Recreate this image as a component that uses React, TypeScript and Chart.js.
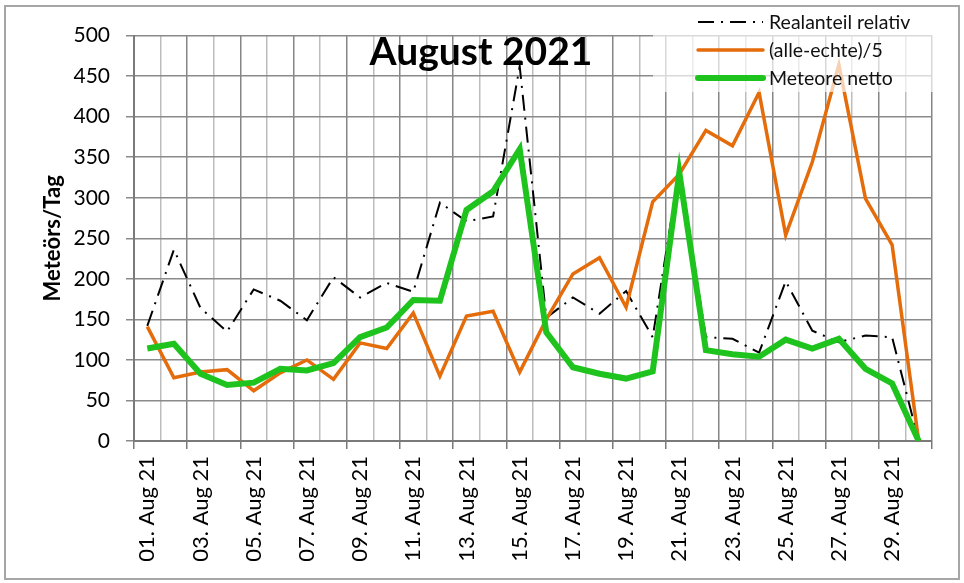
import { useEffect, useRef } from "react";
import { Chart, ChartConfiguration, Plugin, registerables } from "chart.js";

Chart.register(...registerables);

const days = [
  "01. Aug 21", "02. Aug 21", "03. Aug 21", "04. Aug 21", "05. Aug 21",
  "06. Aug 21", "07. Aug 21", "08. Aug 21", "09. Aug 21", "10. Aug 21",
  "11. Aug 21", "12. Aug 21", "13. Aug 21", "14. Aug 21", "15. Aug 21",
  "16. Aug 21", "17. Aug 21", "18. Aug 21", "19. Aug 21", "20. Aug 21",
  "21. Aug 21", "22. Aug 21", "23. Aug 21", "24. Aug 21", "25. Aug 21",
  "26. Aug 21", "27. Aug 21", "28. Aug 21", "29. Aug 21", "30. Aug 21",
];

const realanteilRelativ = [
  142, 236, 164, 135, 187, 173, 149, 202, 177, 195,
  184, 294, 271, 277, 462, 152, 177, 157, 185, 128,
  336, 128, 126, 109, 197, 136, 122, 130, 128, 0,
];

const alleEchteDurch5 = [
  141, 78, 85, 88, 62, 84, 100, 76, 121, 114,
  158, 80, 154, 160, 85, 150, 206, 226, 165, 295,
  329, 383, 364, 430, 254, 344, 464, 299, 242, 0,
];

const meteoreNetto = [
  114, 120, 83, 69, 72, 89, 87, 96, 128, 140,
  174, 173, 285, 308, 360, 134, 91, 83, 77, 86,
  331, 112, 107, 104, 125, 114, 126, 89, 71, 0,
];

const chartTitle = "August 2021";
const yAxisTitle = "Meteörs/Tag";
const yMin = 0;
const yMax = 500;
const yStep = 50;

const FONT = "Lato, 'Open Sans', sans-serif";

// title inside the plot + legend on a half transparent white box (top right)
const overlayPlugin: Plugin<"line"> = {
  id: "overlay",
  afterDraw(chart) {
    const { ctx, chartArea } = chart;
    ctx.save();

    const boxX = chartArea.left + 519;
    ctx.fillStyle = "rgba(255,255,255,0.68)";
    ctx.fillRect(boxX, 0, 282, 85);

    const lineX0 = chartArea.left + 564;
    const lineX1 = chartArea.left + 629;
    const textX = chartArea.left + 635;
    chart.data.datasets.forEach((ds: any, i) => {
      const y = 15 + i * 28;
      ctx.beginPath();
      ctx.strokeStyle = ds.borderColor;
      ctx.lineWidth = ds.borderWidth;
      ctx.lineCap = ds.borderDash ? "butt" : "round";
      ctx.setLineDash(ds.borderDash || []);
      ctx.moveTo(lineX0, y);
      ctx.lineTo(lineX1, y);
      ctx.stroke();
      ctx.setLineDash([]);
      ctx.fillStyle = "#111";
      ctx.font = `19.5px ${FONT}`;
      ctx.textAlign = "left";
      ctx.textBaseline = "middle";
      ctx.fillText(ds.label, textX, y + 1);
    });

    ctx.fillStyle = "#000";
    ctx.font = `bold 39px ${FONT}`;
    ctx.textAlign = "center";
    ctx.textBaseline = "alphabetic";
    ctx.fillText(chartTitle, chartArea.left + 347, 58);
    ctx.restore();
  },
};

const isMajor = (ctx: any) => ctx.type !== "tick" || ctx.index % 2 === 0;

export default function App() {
  const canvasRef = useRef<HTMLCanvasElement>(null);
  const chartInstance = useRef<Chart | null>(null);

  useEffect(() => {
    if (!canvasRef.current) return;
    const ctx = canvasRef.current.getContext("2d");
    if (!ctx) return;

    if (chartInstance.current) {
      chartInstance.current.destroy();
    }

    const config: ChartConfiguration<"line"> = {
      type: "line",
      data: {
        labels: days,
        datasets: [
          {
            label: "Realanteil relativ",
            data: realanteilRelativ,
            borderColor: "#000000",
            borderWidth: 2,
            borderDash: [16, 7, 2, 7],
            pointRadius: 0,
            tension: 0,
            order: 2,
          },
          {
            label: "(alle-echte)/5",
            data: alleEchteDurch5,
            borderColor: "#E46C0A",
            borderWidth: 3.5,
            pointRadius: 0,
            tension: 0,
            order: 1,
          },
          {
            label: "Meteore netto",
            data: meteoreNetto,
            borderColor: "#1EC31E",
            borderWidth: 6,
            pointRadius: 0,
            tension: 0,
            order: 0,
          },
        ],
      },
      options: {
        responsive: true,
        maintainAspectRatio: false,
        animation: false,
        layout: { padding: { top: 26, right: 26, left: 0, bottom: 0 } },
        plugins: {
          legend: { display: false },
          tooltip: { enabled: false },
        },
        scales: {
          x: {
            type: "category",
            offset: true,
            afterFit: (scale) => {
              scale.height = 137;
            },
            grid: {
              offset: true,
              color: (c) => (isMajor(c) ? "#858585" : "#bdbdbd"),
              tickColor: (c) => (isMajor(c) ? "#7a7a7a" : "rgba(0,0,0,0)"),
              lineWidth: 1.5,
              tickLength: 8,
            },
            border: { color: "#7a7a7a", width: 2 },
            ticks: {
              autoSkip: false,
              minRotation: 90,
              maxRotation: 90,
              padding: 7,
              color: "#000",
              font: { family: FONT, size: 22 },
              callback: (_v, index) => (index % 2 === 0 ? days[index] : ""),
            },
          },
          y: {
            min: yMin,
            max: yMax,
            afterFit: (scale) => {
              scale.width = 128;
            },
            grid: {
              color: "#8a8a8a",
              lineWidth: 1.5,
              tickLength: 8,
            },
            border: { color: "#7a7a7a", width: 2 },
            ticks: {
              stepSize: yStep,
              padding: 16,
              color: "#000",
              font: { family: FONT, size: 21 },
            },
            title: {
              display: true,
              text: yAxisTitle,
              color: "#000",
              padding: { top: 34, bottom: 0 },
              font: { family: FONT, size: 22, weight: "bold" },
            },
          },
        },
      },
      plugins: [overlayPlugin],
    };

    chartInstance.current = new Chart(ctx, config);

    return () => {
      if (chartInstance.current) {
        chartInstance.current.destroy();
        chartInstance.current = null;
      }
    };
  }, []);

  return (
    <div
      style={{
        position: "fixed",
        left: 4,
        top: 5,
        width: 956,
        height: 575,
        border: "2px solid #a6a6a6",
        boxSizing: "border-box",
        background: "#fff",
      }}
    >
      <canvas ref={canvasRef} />
    </div>
  );
}
